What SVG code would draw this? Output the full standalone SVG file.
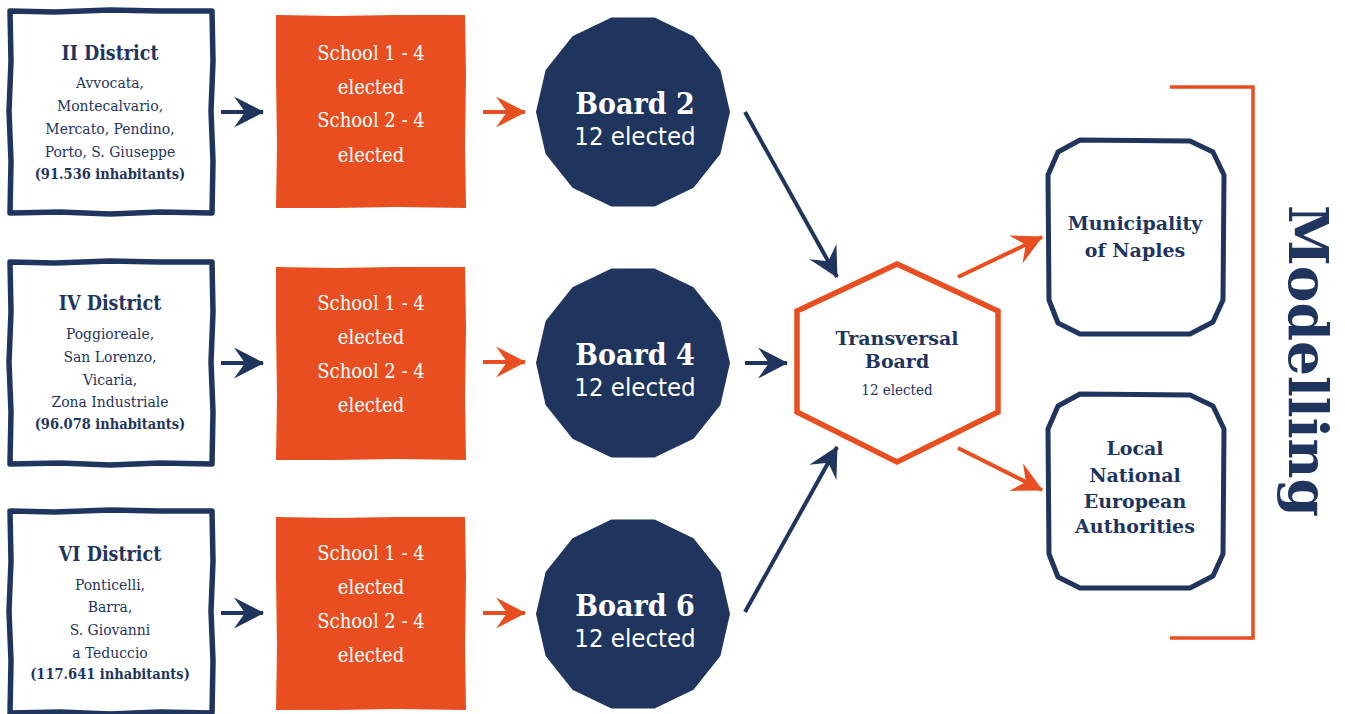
<svg xmlns="http://www.w3.org/2000/svg" xmlns:xlink="http://www.w3.org/1999/xlink" width="1345" height="714" viewBox="0 0 1345 714">
<style>
text{font-family:"DejaVu Serif","Liberation Serif",serif;font-stretch:condensed;text-anchor:middle;}
.dt{font-size:19.5px;font-weight:bold;fill:#1f355e;}
.dl{font-size:15.5px;fill:#1f355e;}
.db{font-size:14.5px;font-weight:bold;fill:#1f355e;}
.sc{font-size:20px;fill:#ffffff;}
.bt{font-size:30px;font-weight:bold;fill:#ffffff;}
.be{font-size:25.5px;fill:#ffffff;font-family:"DejaVu Sans","Liberation Sans",sans-serif;}
.ht{font-size:19px;font-weight:bold;fill:#1f355e;font-stretch:normal;}
.he{font-size:15px;fill:#1f355e;}
.at{font-size:19px;font-weight:bold;fill:#1f355e;font-stretch:normal;}
.dist{fill:#ffffff;stroke:#1f355e;stroke-width:5.5;stroke-linejoin:round;}
.school{fill:#e84e1f;}
.board{fill:#1f355e;}
.auth{fill:#ffffff;stroke:#1f355e;stroke-width:5;stroke-linejoin:round;}
.navy{stroke:#1f355e;stroke-width:4;fill:none;}
.orange{stroke:#e84e1f;stroke-width:4;fill:none;}
</style>
<defs>
<marker id="an" markerUnits="userSpaceOnUse" markerWidth="31" markerHeight="32" refX="29" refY="16" orient="auto" viewBox="0 0 31 32">
<path d="M0,0.5 L30,16 L0,31.5 L11,16 z" fill="#1f355e"/>
</marker>
<marker id="ao" markerUnits="userSpaceOnUse" markerWidth="31" markerHeight="32" refX="29" refY="16" orient="auto" viewBox="0 0 31 32">
<path d="M0,0.5 L30,16 L0,31.5 L11,16 z" fill="#e84e1f"/>
</marker>
<polygon id="bshape" points="97,0 87.4,42.1 60.5,75.8 21.6,94.6 -21.6,94.6 -60.5,75.8 -87.4,42.1 -97,0 -87.4,-42.1 -60.5,-75.8 -21.6,-94.6 21.6,-94.6 60.5,-75.8 87.4,-42.1"/>
<path id="dshape" d="M0,0 L45,1 L100,-1 L150,0 L202,0 L203,50 L201,100 L203,150 L202,202 L150,201 L100,203 L50,201 L0,202 L1,150 L-1,100 L1,50 z"/>
<path id="sshape" d="M0,0 L60,1 L120,0 L189,0 L190,60 L189,130 L190,193 L120,192 L60,193 L0,193 L1,130 L0,60 z"/>
<path id="ashape" d="M32,0 L142,1 L165,12 L176,35 L175,160 L165,182 L142,194 L32,194 L10,183 L1,160 L0,35 L10,12 z"/>
</defs>

<g id="connectors">
<line x1="221" y1="112" x2="263" y2="112" class="navy" marker-end="url(#an)"/>
<line x1="221" y1="363" x2="263" y2="363" class="navy" marker-end="url(#an)"/>
<line x1="221" y1="613" x2="263" y2="613" class="navy" marker-end="url(#an)"/>
<line x1="483" y1="112" x2="525" y2="112" class="orange" marker-end="url(#ao)"/>
<line x1="483" y1="362" x2="525" y2="362" class="orange" marker-end="url(#ao)"/>
<line x1="483" y1="613" x2="525" y2="613" class="orange" marker-end="url(#ao)"/>
<line x1="745" y1="112" x2="837" y2="277" class="navy" marker-end="url(#an)"/>
<line x1="745" y1="363" x2="787" y2="363" class="navy" marker-end="url(#an)"/>
<line x1="745" y1="612" x2="837" y2="447" class="navy" marker-end="url(#an)"/>
<line x1="958" y1="277" x2="1042" y2="237" class="orange" marker-end="url(#ao)"/>
<line x1="958" y1="448" x2="1042" y2="490" class="orange" marker-end="url(#ao)"/>
<path d="M1170,87 L1253,87 L1253,638 L1170,638" stroke="#e84e1f" stroke-width="3.5" fill="none"/>
</g>

<g id="district2">
<use xlink:href="#dshape" x="10" y="11" class="dist"/>
<text x="110" y="60" class="dt">II District</text>
<text x="110" y="88" class="dl">Avvocata,</text>
<text x="110" y="111" class="dl">Montecalvario,</text>
<text x="110" y="134" class="dl">Mercato, Pendino,</text>
<text x="110" y="157" class="dl">Porto, S. Giuseppe</text>
<text x="110" y="179" class="db">(91.536 inhabitants)</text>
</g>
<g id="district4">
<use xlink:href="#dshape" x="10" y="262" class="dist"/>
<text x="110" y="310" class="dt">IV District</text>
<text x="110" y="339" class="dl">Poggioreale,</text>
<text x="110" y="362" class="dl">San Lorenzo,</text>
<text x="110" y="385" class="dl">Vicaria,</text>
<text x="110" y="407" class="dl">Zona Industriale</text>
<text x="110" y="429" class="db">(96.078 inhabitants)</text>
</g>
<g id="district6">
<use xlink:href="#dshape" x="10" y="511" class="dist"/>
<text x="110" y="561" class="dt">VI District</text>
<text x="110" y="590" class="dl">Ponticelli,</text>
<text x="110" y="612" class="dl">Barra,</text>
<text x="110" y="635" class="dl">S. Giovanni</text>
<text x="110" y="658" class="dl">a Teduccio</text>
<text x="110" y="679" class="db">(117.641 inhabitants)</text>
</g>

<g id="school2">
<use xlink:href="#sshape" x="276" y="15" class="school"/>
<text x="371" y="60" class="sc">School 1 - 4</text>
<text x="371" y="94" class="sc">elected</text>
<text x="371" y="127" class="sc">School 2 - 4</text>
<text x="371" y="162" class="sc">elected</text>
</g>
<g id="school4">
<use xlink:href="#sshape" x="276" y="267" class="school"/>
<text x="371" y="310" class="sc">School 1 - 4</text>
<text x="371" y="344" class="sc">elected</text>
<text x="371" y="378" class="sc">School 2 - 4</text>
<text x="371" y="412" class="sc">elected</text>
</g>
<g id="school6">
<use xlink:href="#sshape" x="276" y="517" class="school"/>
<text x="371" y="560" class="sc">School 1 - 4</text>
<text x="371" y="594" class="sc">elected</text>
<text x="371" y="628" class="sc">School 2 - 4</text>
<text x="371" y="662" class="sc">elected</text>
</g>

<g id="board2">
<use xlink:href="#bshape" x="633" y="112" class="board"/>
<text x="635" y="114" class="bt">Board 2</text>
<text x="635" y="145" class="be">12 elected</text>
</g>
<g id="board4">
<use xlink:href="#bshape" x="633" y="363" class="board"/>
<text x="635" y="365" class="bt">Board 4</text>
<text x="635" y="396" class="be">12 elected</text>
</g>
<g id="board6">
<use xlink:href="#bshape" x="633" y="614" class="board"/>
<text x="635" y="616" class="bt">Board 6</text>
<text x="635" y="647" class="be">12 elected</text>
</g>

<g id="transversal">
<polygon points="897,264 998,311 998,412 897,462 797,412 797,311" fill="#ffffff" stroke="#e84e1f" stroke-width="5.5" stroke-linejoin="miter"/>
<text x="897" y="345" class="ht">Transversal</text>
<text x="897" y="368" class="ht">Board</text>
<text x="897" y="395" class="he">12 elected</text>
</g>

<g id="municipality">
<use xlink:href="#ashape" x="1048" y="140" class="auth"/>
<text x="1135" y="230" class="at">Municipality</text>
<text x="1135" y="257" class="at">of Naples</text>
</g>
<g id="authorities">
<use xlink:href="#ashape" x="1048" y="394" class="auth"/>
<text x="1135" y="455" class="at">Local</text>
<text x="1135" y="482" class="at">National</text>
<text x="1135" y="508" class="at">European</text>
<text x="1135" y="533" class="at">Authorities</text>
</g>

<g id="modelling">
<text transform="translate(1289,361) rotate(90)" style="font-size:55px;font-weight:bold;fill:#1f355e;font-stretch:normal;" textLength="312" lengthAdjust="spacingAndGlyphs">Modelling</text>
</g>
</svg>
